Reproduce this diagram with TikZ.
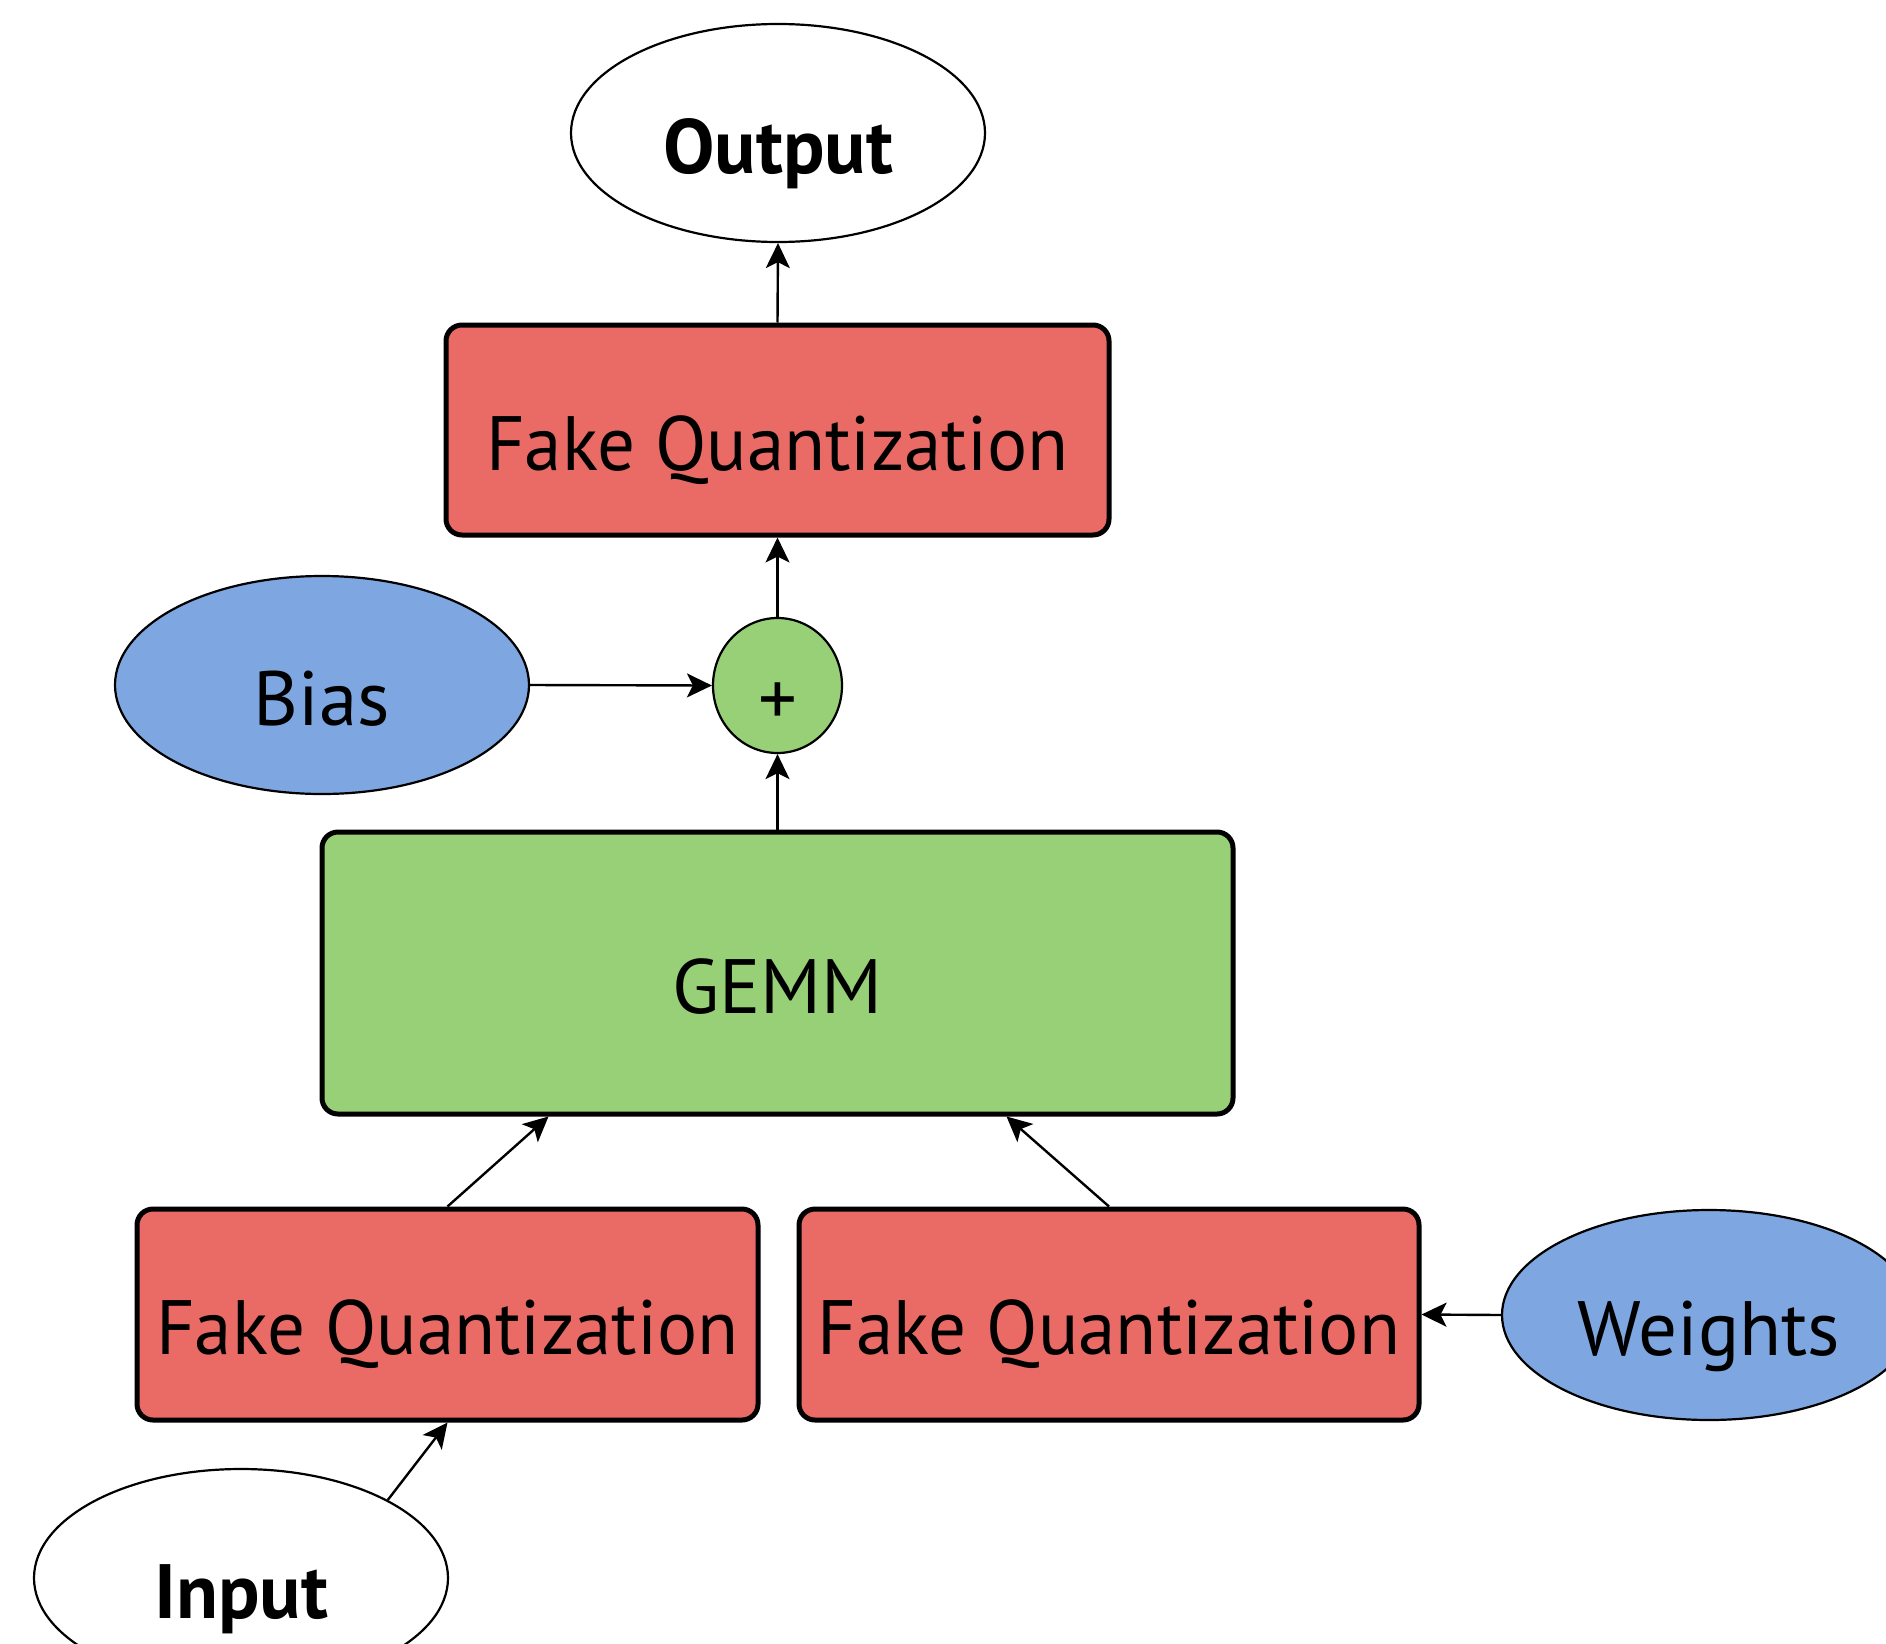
\documentclass[tikz,border=0pt]{standalone}
\usepackage{fontspec}
\setmainfont{PT Sans}
\newfontfamily\fqfont{PT Sans}[FakeStretch=0.975]
\usetikzlibrary{shapes.geometric,arrows.meta,calc}
\definecolor{fqred}{HTML}{EA6B66}
\definecolor{opgreen}{HTML}{97D077}
\definecolor{inblue}{HTML}{7EA6E0}
\newcommand\labsize{\fontsize{77}{80}\selectfont}
\begin{document}
\begin{tikzpicture}[x=1pt,y=-1pt,
  every node/.style={inner sep=0pt, text height=80pt, text depth=0pt, font=\labsize},
  box/.style={draw, rectangle, line width=5pt, rounded corners=16pt},
  fqbox/.style={box, fill=fqred, font=\fqfont\labsize},
  ell/.style={draw, ellipse, line width=2.2pt},
  arr/.style={-{Stealth[length=25pt,width=24pt,inset=6pt]}, line width=2.4pt},
]
\useasboundingbox (0,0) rectangle (1886,1643);
\clip (0,0) rectangle (1886,1643);

\node[ell, minimum width=414pt, minimum height=218pt, font=\labsize\bfseries] (out) at (778,133) {Output};
\node[fqbox, minimum width=663pt, minimum height=210pt] (fqt) at (777.5,430) {Fake Quantization};
\node[ell, fill=opgreen, minimum width=129pt, minimum height=135pt] (plus) at (777.5,685.5) {+};
\node[ell, fill=inblue, minimum width=414pt, minimum height=218pt] (bias) at (322,685) {Bias};
\node[box, fill=opgreen, minimum width=911pt, minimum height=282pt] (gemm) at (777.5,973) {GEMM};
\node[fqbox, minimum width=621pt, minimum height=211pt] (fqbl) at (447.5,1314.5) {Fake Quantization};
\node[fqbox, minimum width=620pt, minimum height=211pt] (fqbr) at (1109,1314.5) {Fake Quantization};
\node[ell, fill=inblue, minimum width=414pt, minimum height=210pt] (wts) at (1709,1315) {Weights};
\node[ell, minimum width=414pt, minimum height=218pt, font=\labsize\bfseries] (inp) at (241,1578) {Input};

\draw[arr] (fqt.north) -- (out.south);
\draw[arr] (plus.north) -- (fqt.south);
\draw[arr] (bias.east) -- (plus.west);
\draw[arr] (gemm.north) -- (plus.south);
\draw[arr] (fqbl.north) -- ($(gemm.south west)!0.25!(gemm.south east)$);
\draw[arr] (fqbr.north) -- ($(gemm.south west)!0.75!(gemm.south east)$);
\draw[arr] (wts.west) -- (fqbr.east);
\draw[arr] (inp.28) -- (fqbl.south);
\end{tikzpicture}
\end{document}
